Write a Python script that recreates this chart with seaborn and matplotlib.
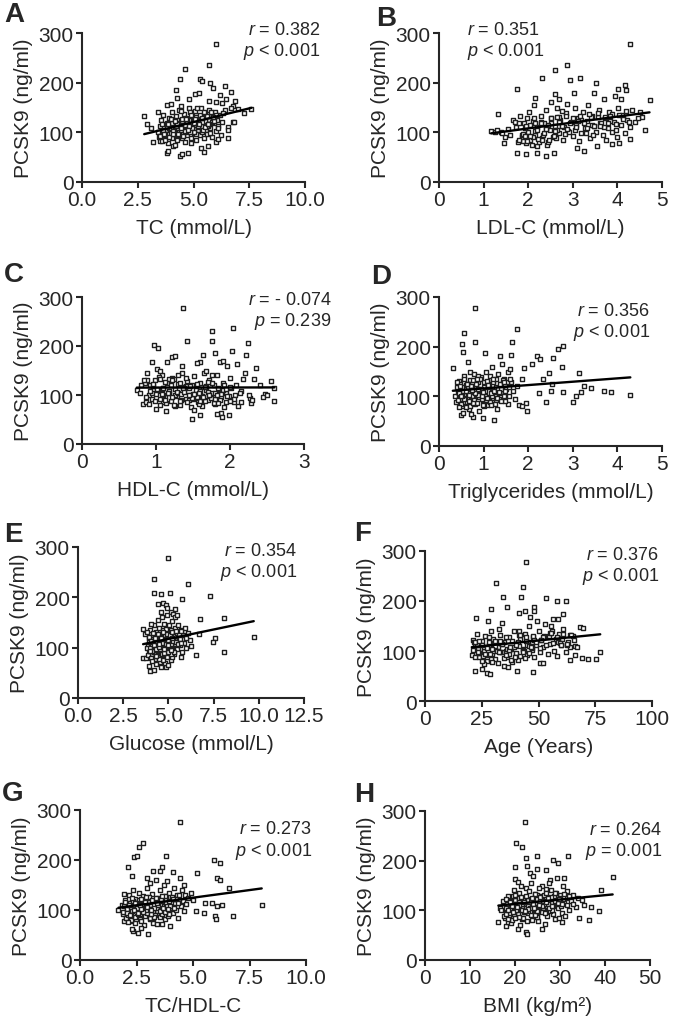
import matplotlib
matplotlib.use("Agg")
import matplotlib.pyplot as plt
import seaborn as sns

# ---- data (x value, PCSK9 ng/ml) ----
# A: total cholesterol
tc = [6.02, 5.69, 4.61, 4.41, 5.27, 5.38, 5.72, 5.87, 6.40, 4.23,
      6.69, 6.17, 5.05, 5.23, 4.26, 4.80, 5.68, 6.46, 6.86, 3.79,
      4.01, 4.46, 6.29, 6.02, 6.76, 6.98, 7.28, 6.66, 2.79, 3.19,
      3.08, 3.42, 2.90, 3.49, 3.79, 3.86, 4.09, 4.38, 4.50, 4.75,
      5.35, 5.45, 5.65, 6.02, 6.09, 6.54, 6.54, 6.76, 6.83, 6.54,
      3.40, 3.50, 3.55, 3.60, 3.65, 3.70, 3.75, 3.80, 3.85, 3.90,
      3.95, 4.00, 4.05, 4.10, 4.12, 4.18, 4.20, 4.25, 4.28, 4.32,
      4.35, 4.40, 4.42, 4.48, 4.50, 4.55, 4.58, 4.62, 4.65, 4.70,
      4.72, 4.78, 4.80, 4.85, 4.88, 4.92, 4.95, 5.00, 5.02, 5.08,
      5.10, 5.12, 5.18, 5.20, 5.25, 5.30, 5.32, 5.38, 5.42, 5.45,
      5.50, 5.55, 5.58, 5.62, 5.68, 5.70, 5.75, 5.80, 5.85, 5.90,
      5.95, 6.00, 6.05, 6.10, 6.20, 6.25, 6.30, 6.40, 3.45, 3.58,
      3.95, 4.15, 4.45, 4.68, 4.90, 5.15, 5.40, 5.65, 5.88, 4.30,
      3.52, 3.62, 3.72, 3.82, 3.92, 4.02, 4.12, 4.22, 4.32, 4.42,
      4.52, 4.62, 4.72, 4.82, 4.92, 5.02, 5.12, 5.22, 5.32, 5.42,
      5.52, 5.62, 5.72, 5.82, 5.92, 6.12, 6.32, 4.05, 4.85, 7.60,
      3.60, 3.70, 3.80, 3.90, 4.00, 4.10, 4.20, 4.30, 4.40, 4.50,
      4.60, 4.70, 4.80, 4.90, 5.00, 5.10, 5.20, 5.30, 5.40, 5.50,
      5.60, 5.70, 5.80, 5.90, 6.00, 3.66, 3.86, 4.06, 4.26, 4.46,
      4.66, 4.86, 5.06, 5.26, 5.46, 5.66, 5.86, 4.16, 4.76, 5.36]
pcsk9_tc = [277, 235, 227, 208, 208, 204, 200, 189, 193, 186,
            181, 175, 177, 179, 169, 167, 164, 167, 164, 155,
            157, 154, 160, 162, 154, 147, 138, 148, 133, 80,
            108, 140, 117, 83, 58, 63, 73, 53, 56, 59,
            69, 61, 73, 80, 86, 88, 110, 121, 121, 105,
            100, 112, 125, 95, 135, 88, 105, 118, 78, 128,
            98, 110, 140, 90, 122, 102, 132, 84, 115, 95,
            145, 108, 125, 88, 118, 100, 136, 80, 112, 128,
            95, 148, 105, 120, 88, 135, 110, 98, 125, 142,
            115, 85, 130, 105, 120, 95, 150, 112, 128, 88,
            138, 105, 118, 96, 145, 125, 108, 132, 90, 118,
            140, 102, 125, 112, 135, 95, 120, 145, 90, 82,
            120, 75, 142, 102, 78, 150, 100, 112, 130, 108,
            92, 104, 85, 97, 108, 88, 100, 112, 94, 105,
            92, 115, 100, 124, 108, 118, 96, 110, 132, 104,
            122, 112, 98, 120, 128, 108, 138, 118, 140, 146,
            116, 95, 110, 91, 126, 103, 118, 97, 114, 127,
            102, 122, 113, 134, 101, 130, 113, 134, 121, 110,
            133, 116, 141, 122, 134, 97, 116, 96, 117, 109,
            127, 101, 127, 116, 140, 116, 130, 123, 104, 128]

# B: LDL cholesterol
ldl = [4.29, 2.87, 2.61, 2.31, 2.94, 3.17, 3.53, 4.18, 1.75, 4.20,
       4.01, 3.47, 3.02, 3.95, 2.61, 2.16, 2.69, 3.69, 4.07, 4.72,
       1.33, 1.38, 1.17, 4.63, 4.29, 4.03, 3.88, 3.54, 3.10, 3.25,
       2.57, 2.41, 2.20, 1.94, 1.75, 2.19, 1.45, 1.49, 1.25, 1.30,
       1.42, 1.55, 1.60, 1.65, 1.72, 1.78, 1.82, 1.85, 1.90, 1.95,
       2.00, 2.02, 2.05, 2.10, 2.12, 2.15, 2.20, 2.25, 2.28, 2.32,
       2.35, 2.40, 2.42, 2.48, 2.50, 2.55, 2.60, 2.65, 2.68, 2.72,
       2.78, 2.80, 2.85, 2.90, 2.95, 3.00, 3.05, 3.08, 3.12, 3.18,
       3.22, 3.28, 3.32, 3.38, 3.42, 3.48, 3.52, 3.58, 3.62, 3.68,
       3.72, 3.78, 3.82, 3.88, 3.92, 3.98, 4.02, 4.08, 4.12, 4.18,
       4.22, 4.28, 4.32, 4.40, 4.50, 4.55, 1.88, 2.08, 2.30, 2.45,
       2.62, 1.70, 1.98, 2.52, 2.88, 3.35, 3.75, 3.15, 2.75, 3.45,
       1.80, 1.86, 1.92, 1.98, 2.04, 2.10, 2.16, 2.22, 2.28, 2.34,
       2.40, 2.46, 2.52, 2.58, 2.64, 2.70, 2.76, 2.82, 2.94, 3.06,
       3.18, 3.30, 3.44, 3.56, 3.70, 3.84, 3.96, 4.10, 4.26, 4.46,
       1.80, 1.88, 1.96, 2.04, 2.12, 2.20, 2.28, 2.36, 2.44, 2.52,
       2.60, 2.68, 2.76, 2.84, 2.92, 3.00, 3.08, 3.16, 3.24, 3.32,
       3.40, 3.48, 3.56, 3.64, 3.72, 3.80, 3.88, 3.96, 4.04, 4.12,
       4.20, 1.92, 2.16, 2.40, 2.64, 2.88, 3.12, 3.36, 3.60, 3.84]
pcsk9_ldl = [278, 235, 226, 209, 206, 209, 200, 195, 188, 185,
             188, 180, 179, 174, 177, 170, 167, 167, 167, 165,
             137, 101, 102, 104, 87, 79, 77, 73, 69, 63,
             59, 52, 59, 56, 58, 73, 79, 91, 100, 104,
             98, 106, 95, 125, 110, 80, 132, 90, 118, 78,
             100, 140, 85, 122, 155, 95, 110, 80, 132, 88,
             118, 145, 75, 105, 128, 90, 112, 150, 98, 125,
             85, 110, 138, 102, 120, 92, 150, 115, 128, 98,
             140, 108, 122, 88, 132, 112, 100, 145, 118, 95,
             128, 108, 140, 100, 120, 90, 150, 115, 130, 98,
             125, 110, 145, 120, 140, 130, 82, 75, 84, 80,
             88, 120, 128, 162, 158, 155, 85, 82, 142, 95,
             84, 95, 108, 82, 115, 90, 102, 86, 120, 94,
             108, 84, 118, 92, 104, 130, 112, 96, 118, 105,
             125, 98, 115, 130, 110, 122, 105, 135, 120, 128,
             119, 97, 112, 93, 128, 104, 119, 98, 115, 128,
             102, 121, 112, 133, 100, 128, 111, 132, 119, 108,
             130, 113, 138, 119, 130, 118, 137, 116, 135, 126,
             142, 92, 118, 106, 131, 107, 122, 136, 112, 133]

# C: HDL cholesterol
hdl = [1.36, 1.42, 0.97, 1.03, 2.04, 1.75, 1.75, 2.24, 2.03, 2.22,
       1.63, 1.80, 1.21, 1.26, 2.10, 1.96, 2.35, 1.87, 1.90, 1.60,
       1.55, 1.35, 1.15, 0.94, 1.01, 2.18, 2.32, 2.55, 2.59, 2.47,
       2.60, 2.27, 2.28, 2.07, 2.05, 2.11, 1.99, 1.88, 1.89, 1.82,
       1.60, 1.48, 1.14, 1.00, 1.09, 0.74, 0.83, 0.86, 0.88, 0.90,
       0.92, 0.95, 0.98, 1.02, 1.05, 1.08, 1.10, 1.12, 1.15, 1.18,
       1.20, 1.22, 1.25, 1.28, 1.30, 1.32, 1.35, 1.38, 1.40, 1.42,
       1.45, 1.47, 1.50, 1.52, 1.55, 1.57, 1.60, 1.62, 1.65, 1.67,
       1.70, 1.72, 1.75, 1.78, 1.80, 1.82, 1.85, 1.88, 1.90, 1.95,
       2.00, 2.02, 2.08, 2.15, 2.20, 0.85, 1.05, 1.25, 1.45, 1.62,
       1.18, 1.40, 1.52, 1.68, 1.92, 0.96, 1.30, 1.58, 1.75, 2.40,
       0.86, 0.90, 0.94, 0.98, 1.02, 1.06, 1.10, 1.14, 1.18, 1.22,
       1.26, 1.30, 1.34, 1.38, 1.42, 1.46, 1.50, 1.54, 1.58, 1.62,
       1.66, 1.70, 1.74, 1.78, 1.82, 1.86, 1.90, 1.94, 1.98, 2.06,
       2.14, 2.26, 1.12, 1.24, 1.36, 1.48, 1.60, 1.72, 1.84, 0.96,
       1.08, 1.32, 1.56, 1.80, 2.00,
       0.88, 0.92, 0.96, 1.00, 1.04, 1.08, 1.12, 1.16, 1.20, 1.24,
       1.28, 1.32, 1.36, 1.40, 1.44, 1.48, 1.52, 1.56, 1.60, 1.64,
       1.68, 1.72, 1.76, 1.80, 1.84, 1.88, 1.92, 1.96, 2.00, 1.10,
       1.22, 1.34, 1.46, 1.58, 1.70, 1.82, 1.94, 1.06, 1.38, 1.66,
       2.30, 2.45, 2.15, 2.50, 0.80, 0.84, 0.78]
pcsk9_hdl = [278, 211, 202, 196, 237, 230, 211, 207, 190, 182,
             181, 185, 177, 179, 164, 160, 155, 168, 170, 167,
             166, 160, 167, 167, 153, 133, 133, 128, 115, 102,
             87, 94, 83, 100, 85, 78, 60, 63, 55, 61,
             60, 52, 68, 72, 85, 111, 82, 85, 145, 100,
             120, 92, 130, 108, 80, 140, 115, 95, 125, 105,
             88, 135, 112, 98, 122, 80, 145, 108, 92, 128,
             115, 75, 102, 138, 118, 85, 125, 98, 145, 110,
             90, 130, 105, 120, 82, 140, 112, 95, 125, 105,
             135, 115, 120, 108, 145, 125, 150, 100, 90, 78,
             132, 118, 70, 150, 75, 110, 140, 112, 140, 120,
             95, 82, 105, 88, 112, 92, 100, 84, 108, 96,
             78, 104, 90, 115, 86, 100, 92, 110, 82, 98,
             88, 106, 94, 84, 102, 90, 110, 86, 98, 92,
             105, 100, 90, 80, 116, 94, 88, 100, 84, 118,
             102, 88, 96, 92, 88,
             130, 108, 122, 102, 136, 112, 126, 104, 120, 132,
             106, 124, 114, 134, 100, 120, 102, 122, 108, 96,
             118, 100, 124, 104, 114, 102, 120, 98, 116, 114,
             130, 102, 118, 104, 126, 100, 112, 132, 106, 116,
             90, 95, 85, 100, 120, 130, 105]

# D: triglycerides
tg = [0.80, 0.56, 0.52, 0.54, 0.80, 1.03, 1.76, 1.63, 1.61, 0.31,
      0.65, 0.69, 1.36, 2.19, 2.27, 2.56, 2.67, 2.79, 2.75, 2.08,
      1.90, 1.85, 2.47, 2.34, 2.53, 2.51, 2.79, 2.25, 2.40, 3.00,
      3.07, 3.19, 3.15, 3.25, 3.40, 3.69, 3.85, 4.29, 1.98, 1.96,
      1.80, 1.87, 1.54, 1.24, 0.99, 0.76, 0.50, 0.54, 0.35, 0.38,
      0.40, 0.42, 0.45, 0.48, 0.50, 0.52, 0.55, 0.58, 0.60, 0.62,
      0.65, 0.68, 0.70, 0.72, 0.75, 0.78, 0.80, 0.82, 0.85, 0.88,
      0.90, 0.92, 0.95, 0.98, 1.00, 1.02, 1.05, 1.08, 1.10, 1.12,
      1.15, 1.18, 1.20, 1.22, 1.25, 1.28, 1.30, 1.32, 1.35, 1.38,
      1.40, 1.45, 1.48, 1.50, 1.55, 1.58, 1.62, 1.65, 1.70, 1.75,
      0.60, 0.72, 0.88, 1.02, 1.18, 1.42, 1.60, 0.46, 0.95, 1.28,
      0.42, 0.46, 0.50, 0.54, 0.58, 0.62, 0.66, 0.70, 0.74, 0.78,
      0.82, 0.86, 0.90, 0.94, 0.98, 1.02, 1.06, 1.10, 1.14, 1.18,
      1.22, 1.26, 1.30, 1.34, 1.38, 1.42, 1.46, 0.44, 0.56, 0.64,
      0.76, 0.84, 0.96, 1.04, 1.16, 1.24, 0.52, 0.68, 0.88, 1.08,
      0.40, 0.44, 0.48, 0.52, 0.56, 0.60, 0.64, 0.68, 0.72, 0.76,
      0.80, 0.84, 0.88, 0.92, 0.96, 1.00, 1.04, 1.08, 1.12, 1.16,
      1.20, 1.24, 1.28, 1.32, 1.36, 1.40, 1.44, 1.48, 1.52, 1.56,
      1.60, 0.50, 0.62, 0.74, 0.86, 0.98, 1.10, 1.22, 1.34, 1.46]
pcsk9_tg = [278, 227, 206, 189, 209, 187, 236, 209, 183, 158,
            170, 150, 181, 181, 175, 177, 196, 201, 160, 165,
            158, 135, 147, 134, 125, 111, 109, 106, 88, 89,
            101, 109, 146, 121, 117, 111, 109, 103, 71, 86,
            82, 80, 84, 53, 57, 59, 62, 67, 100, 88,
            118, 108, 130, 95, 112, 80, 140, 102, 122, 88,
            115, 75, 132, 98, 110, 145, 85, 120, 100, 128,
            70, 112, 138, 92, 118, 105, 150, 82, 125, 98,
            140, 110, 88, 130, 102, 118, 75, 145, 95, 125,
            108, 135, 90, 115, 150, 100, 128, 110, 95, 120,
            78, 65, 140, 80, 160, 165, 155, 125, 105, 92,
            92, 104, 84, 110, 96, 88, 118, 80, 100, 92,
            108, 86, 98, 114, 82, 104, 92, 120, 88, 100,
            110, 84, 96, 106, 90, 115, 100, 78, 95, 106,
            86, 112, 94, 100, 82, 108, 118, 90, 102, 96,
            129, 107, 121, 101, 135, 111, 125, 103, 121, 133,
            107, 125, 115, 135, 101, 129, 111, 131, 119, 107,
            129, 111, 135, 115, 125, 115, 133, 111, 129, 119,
            135, 101, 125, 113, 135, 109, 123, 135, 109, 129]

# E: glucose
glucose = [4.98, 4.19, 6.09, 4.19, 4.61, 5.11, 7.29, 5.77, 4.43, 4.70,
           4.85, 5.39, 5.13, 5.26, 6.73, 8.06, 3.60, 3.69, 6.70, 7.57,
           7.47, 9.72, 8.06, 6.55, 6.27, 3.60, 3.78, 3.93, 4.00, 4.19,
           4.61, 4.89, 5.72, 3.85, 3.90, 3.95, 4.00, 4.05, 4.10, 4.15,
           4.20, 4.22, 4.25, 4.28, 4.30, 4.35, 4.38, 4.40, 4.42, 4.45,
           4.48, 4.50, 4.52, 4.55, 4.58, 4.60, 4.62, 4.65, 4.68, 4.70,
           4.72, 4.75, 4.78, 4.80, 4.82, 4.85, 4.88, 4.90, 4.92, 4.95,
           4.98, 5.00, 5.02, 5.05, 5.08, 5.10, 5.12, 5.15, 5.18, 5.20,
           5.25, 5.28, 5.30, 5.35, 5.40, 5.45, 5.50, 5.55, 5.60, 5.65,
           5.70, 5.75, 5.80, 5.85, 5.90, 6.00, 6.10, 6.20, 4.32, 4.60,
           4.95, 5.35, 4.05, 4.70, 5.00, 3.80, 4.52, 5.22, 5.48, 5.95,
           3.82, 3.88, 3.94, 4.00, 4.06, 4.12, 4.18, 4.24, 4.30, 4.36,
           4.42, 4.48, 4.54, 4.60, 4.66, 4.72, 4.78, 4.84, 4.90, 4.96,
           5.02, 5.08, 5.14, 5.20, 5.26, 5.32, 5.38, 4.08, 4.26, 4.44,
           4.62, 4.80, 4.98, 5.16, 4.14, 4.34, 4.56, 4.76, 4.94, 5.12,
           3.90, 3.96, 4.02, 4.08, 4.14, 4.20, 4.26, 4.32, 4.38, 4.44,
           4.50, 4.56, 4.62, 4.68, 4.74, 4.80, 4.86, 4.92, 4.98, 5.04,
           5.10, 5.16, 5.22, 5.28, 5.34, 5.40, 5.46, 5.52, 5.58, 5.64,
           5.70, 4.00, 4.24, 4.48, 4.72, 4.96, 5.20, 5.44, 5.68, 4.60]
pcsk9_glu = [278, 236, 227, 209, 206, 209, 202, 196, 187, 189,
             185, 177, 170, 167, 157, 159, 137, 127, 127, 119,
             112, 122, 92, 86, 104, 79, 79, 64, 54, 56,
             61, 61, 82, 105, 120, 95, 135, 110, 88, 125,
             100, 145, 78, 115, 132, 92, 108, 155, 120, 85,
             140, 102, 72, 128, 112, 95, 160, 118, 82, 135,
             105, 148, 90, 122, 70, 110, 138, 98, 165, 115,
             85, 128, 105, 145, 95, 120, 75, 135, 110, 152,
             100, 125, 88, 140, 112, 130, 98, 145, 118, 105,
             135, 92, 125, 110, 140, 100, 130, 115, 68, 170,
             178, 160, 148, 75, 65, 132, 90, 82, 165, 120,
             100, 86, 112, 94, 80, 104, 92, 116, 84, 98,
             108, 78, 102, 90, 118, 86, 96, 110, 82, 104,
             94, 114, 88, 100, 120, 92, 108, 74, 96, 112,
             88, 100, 92, 106, 118, 84, 98, 90, 108, 96,
             121, 99, 114, 94, 129, 105, 120, 98, 114, 127,
             101, 120, 110, 130, 97, 125, 108, 128, 115, 103,
             125, 108, 132, 113, 123, 111, 130, 108, 127, 117,
             133, 94, 119, 107, 131, 106, 120, 134, 109, 120]

# F: age
age = [44.4, 31.3, 43.1, 34.3, 42.2, 53.4, 58.1, 62.2, 29.1, 36.3,
       41.2, 44.1, 48.1, 48.1, 46.3, 22.5, 27.9, 34.0, 61.0, 58.8,
       56.3, 68.1, 69.6, 72.0, 75.4, 77.2, 69.1, 20.6, 22.1, 25.0,
       27.2, 28.7, 40.4, 47.4, 34.6, 36.5, 50.7, 52.2, 64.0, 21.0,
       22.0, 23.0, 24.0, 25.0, 26.0, 26.5, 27.5, 28.0, 29.0, 29.5,
       30.0, 31.0, 32.0, 33.0, 34.0, 35.0, 36.0, 37.0, 38.0, 39.0,
       40.0, 40.5, 41.0, 42.0, 43.0, 44.0, 45.0, 45.5, 46.0, 47.0,
       47.5, 48.0, 49.0, 50.0, 50.5, 51.0, 52.0, 53.0, 54.0, 54.5,
       55.0, 56.0, 57.0, 57.5, 58.0, 59.0, 60.0, 61.0, 62.0, 63.0,
       64.0, 65.0, 66.0, 67.0, 60.5, 55.5, 44.5, 38.5, 32.5, 26.0,
       49.5, 52.5, 46.5, 41.5, 35.5, 30.5, 23.5, 58.5, 62.5, 66.0,
       21.0, 22.0, 23.0, 24.0, 25.0, 26.0, 27.0, 28.0, 29.0, 30.0,
       31.0, 32.0, 33.0, 34.0, 35.0, 36.0, 37.0, 38.0, 39.0, 40.0,
       41.0, 42.0, 43.0, 44.0, 45.0, 46.0, 47.0, 48.0, 21.5, 23.5,
       25.5, 27.5, 29.5, 31.5, 33.5, 35.5, 37.5, 39.5, 41.5, 43.5,
       22.0, 23.5, 25.0, 26.5, 28.0, 29.5, 31.0, 32.5, 34.0, 35.5,
       37.0, 38.5, 40.0, 41.5, 43.0, 44.5, 46.0, 47.5, 49.0, 50.5,
       52.0, 53.5, 55.0, 56.5, 58.0, 59.5, 61.0, 62.5, 64.0, 65.5,
       24.0, 28.5, 33.0, 37.5, 42.0, 46.5, 51.0, 55.5, 60.0, 64.5]
pcsk9_age = [278, 236, 228, 209, 209, 206, 201, 201, 184, 189,
             177, 180, 188, 181, 169, 166, 161, 156, 174, 164,
             164, 149, 146, 85, 84, 98, 87, 92, 60, 65,
             57, 54, 60, 58, 70, 68, 77, 77, 82, 122,
             110, 135, 88, 120, 100, 130, 80, 112, 140, 95,
             125, 85, 108, 132, 98, 118, 88, 128, 105, 140,
             95, 115, 82, 125, 105, 135, 92, 118, 150, 102,
             128, 88, 112, 140, 98, 122, 108, 155, 95, 130,
             115, 140, 100, 125, 90, 135, 112, 145, 98, 118,
             108, 130, 110, 108, 125, 150, 120, 78, 145, 75,
             160, 130, 110, 140, 100, 115, 105, 118, 112, 92,
             102, 88, 112, 96, 80, 108, 92, 118, 84, 100,
             110, 76, 98, 114, 86, 104, 94, 82, 108, 96,
             118, 90, 102, 86, 112, 96, 106, 122, 118, 98,
             90, 106, 78, 100, 116, 92, 104, 88, 110, 100,
             119, 98, 113, 94, 128, 105, 120, 98, 115, 128,
             102, 121, 112, 132, 99, 128, 110, 131, 118, 106,
             129, 112, 136, 117, 128, 116, 135, 114, 133, 123,
             120, 94, 120, 109, 133, 108, 123, 136, 113, 133]

# G: TC/HDL-C ratio
ratio = [4.42, 2.80, 2.63, 2.40, 2.51, 3.81, 2.11, 3.61, 4.10, 2.29,
         4.42, 5.16, 5.94, 6.19, 6.05, 6.19, 6.61, 1.95, 1.70, 8.04,
         6.78, 5.97, 6.02, 5.49, 5.12, 6.30, 6.05, 5.53, 5.83, 1.95,
         2.33, 2.57, 3.00, 3.21, 3.61, 3.98, 3.76, 1.85, 1.90, 2.00,
         2.05, 2.10, 2.15, 2.20, 2.25, 2.30, 2.35, 2.40, 2.45, 2.50,
         2.55, 2.60, 2.65, 2.70, 2.75, 2.80, 2.85, 2.90, 2.95, 3.00,
         3.05, 3.10, 3.15, 3.20, 3.25, 3.30, 3.35, 3.40, 3.45, 3.50,
         3.55, 3.60, 3.65, 3.70, 3.75, 3.80, 3.85, 3.90, 3.95, 4.00,
         4.05, 4.10, 4.15, 4.20, 4.25, 4.30, 4.35, 4.40, 4.45, 4.50,
         4.55, 4.60, 4.65, 4.70, 4.80, 4.90, 5.00, 2.28, 2.72, 3.55,
         3.25, 2.98, 3.85, 4.60, 2.18, 2.62, 3.08, 3.42, 3.95, 2.45,
         1.90, 1.96, 2.02, 2.08, 2.14, 2.20, 2.26, 2.32, 2.38, 2.44,
         2.50, 2.56, 2.62, 2.68, 2.74, 2.80, 2.86, 2.92, 2.98, 3.04,
         3.10, 3.16, 3.22, 3.28, 3.34, 3.40, 3.46, 3.52, 3.58, 3.64,
         3.70, 3.76, 3.82, 3.88, 2.12, 2.36, 2.66, 2.94, 3.26, 3.56,
         2.00, 2.08, 2.16, 2.24, 2.32, 2.40, 2.48, 2.56, 2.64, 2.72,
         2.80, 2.88, 2.96, 3.04, 3.12, 3.20, 3.28, 3.36, 3.44, 3.52,
         3.60, 3.68, 3.76, 3.84, 3.92, 4.00, 4.08, 4.16, 4.24, 4.32,
         4.40, 2.20, 2.44, 2.68, 2.92, 3.16, 3.40, 3.64, 3.88, 4.12]
pcsk9_ratio = [277, 235, 227, 207, 209, 209, 187, 187, 177, 169,
               164, 175, 200, 194, 165, 161, 145, 132, 101, 110,
               89, 89, 83, 95, 99, 110, 109, 115, 115, 79,
               59, 55, 52, 75, 72, 69, 82, 110, 92, 120,
               85, 105, 130, 95, 115, 78, 140, 100, 122, 88,
               108, 135, 82, 118, 98, 128, 70, 112, 145, 92,
               120, 155, 102, 132, 85, 115, 160, 98, 125, 108,
               140, 90, 118, 150, 102, 128, 112, 88, 135, 105,
               122, 95, 145, 115, 100, 130, 85, 120, 108, 140,
               118, 98, 130, 112, 125, 135, 120, 62, 65, 178,
               178, 165, 158, 150, 112, 95, 82, 72, 92, 75,
               96, 108, 84, 102, 90, 115, 80, 98, 110, 86,
               104, 92, 120, 78, 100, 112, 88, 106, 94, 116,
               84, 102, 96, 110, 90, 104, 118, 86, 100, 92,
               108, 96, 114, 102, 76, 118, 92, 100, 86, 110,
               117, 95, 110, 90, 125, 101, 115, 94, 110, 123,
               97, 116, 106, 126, 93, 121, 104, 124, 111, 99,
               122, 104, 129, 109, 119, 108, 126, 105, 123, 114,
               130, 90, 115, 103, 126, 101, 115, 128, 103, 123]

# H: body mass index
bmi = [22.2, 20.2, 21.5, 22.4, 24.8, 31.7, 28.4, 29.6, 20.1, 22.7,
       24.8, 27.0, 23.3, 23.9, 27.8, 29.3, 30.9, 41.7, 39.1, 19.9,
       20.7, 30.7, 31.5, 16.3, 18.0, 18.5, 20.7, 22.4, 22.7, 26.1,
       26.7, 28.9, 30.4, 34.2, 36.5, 37.0, 38.7, 33.6, 35.3, 16.7,
       17.5, 18.0, 18.5, 19.0, 19.5, 20.0, 20.5, 21.0, 21.5, 22.0,
       22.5, 23.0, 23.5, 24.0, 24.5, 25.0, 25.5, 26.0, 26.5, 27.0,
       27.5, 28.0, 28.5, 29.0, 29.5, 30.0, 30.5, 31.0, 31.5, 32.0,
       32.5, 33.0, 34.0, 35.0, 19.2, 21.2, 23.8, 25.2, 27.2, 29.8,
       18.2, 19.8, 21.8, 23.2, 24.2, 25.8, 26.8, 28.2, 30.2, 31.2,
       20.3, 22.3, 24.6, 26.3, 28.6, 17.8, 21.4, 23.6, 25.4, 27.6,
       19.6, 22.8, 24.4, 26.2, 29.2, 18.8, 21.6, 25.0, 27.8, 32.8,
       17.0, 17.6, 18.2, 18.8, 19.4, 20.0, 20.6, 21.2, 21.8, 22.4,
       23.0, 23.6, 24.2, 24.8, 25.4, 26.0, 17.3, 17.9, 18.5, 19.1,
       19.7, 20.3, 20.9, 21.5, 22.1, 22.7, 23.3, 23.9, 24.5, 25.1,
       25.7, 26.6, 27.4, 28.2, 29.0, 18.0, 19.0, 20.0, 21.0, 22.0,
       18.0, 18.5, 19.0, 19.5, 20.0, 20.5, 21.0, 21.5, 22.0, 22.5,
       23.0, 23.5, 24.0, 24.5, 25.0, 25.5, 26.0, 26.5, 27.0, 27.5,
       28.0, 28.5, 29.0, 29.5, 30.0, 30.5, 31.0, 31.5, 32.0, 19.3,
       20.8, 22.3, 23.8, 25.3, 26.8, 28.3, 29.8, 21.3, 24.3, 27.3]
pcsk9_bmi = [277, 236, 228, 205, 210, 210, 202, 196, 188, 190,
             184, 181, 176, 169, 161, 165, 166, 167, 141, 163,
             157, 149, 139, 77, 69, 77, 62, 56, 52, 62,
             72, 82, 76, 84, 81, 106, 99, 106, 111, 104,
             115, 95, 128, 105, 88, 120, 100, 135, 82, 112,
             145, 95, 122, 108, 132, 88, 118, 150, 100, 125,
             110, 140, 92, 118, 105, 130, 95, 115, 125, 100,
             118, 112, 125, 120, 75, 70, 80, 78, 88, 85,
             110, 140, 125, 138, 92, 128, 142, 115, 108, 88,
             112, 98, 115, 105, 128, 85, 150, 155, 145, 155,
             128, 120, 102, 118, 135, 118, 108, 130, 98, 130,
             100, 88, 112, 94, 80, 106, 92, 116, 84, 98,
             108, 90, 102, 86, 114, 96, 118, 104, 82, 110,
             92, 100, 86, 112, 96, 78, 104, 120, 90, 100,
             108, 94, 112, 100, 118, 92, 102, 84, 110, 96,
             123, 101, 116, 96, 130, 107, 121, 100, 116, 128,
             103, 121, 112, 132, 99, 127, 109, 130, 116, 104,
             127, 109, 134, 114, 125, 113, 132, 110, 128, 108,
             125, 98, 124, 111, 134, 109, 123, 127, 104, 124]

y_ticks = [0, 100, 200, 300]

sns.set_style("ticks")
plt.rcParams["font.family"] = ["Liberation Sans", "DejaVu Sans"]
plt.rcParams["mathtext.fontset"] = "custom"
plt.rcParams["mathtext.rm"] = "Liberation Sans"
plt.rcParams["mathtext.it"] = "Liberation Sans:italic"

W, H = 674, 1020
fig = plt.figure(figsize=(W / 100, H / 100), dpi=100)

# letter, x, y, xlabel, xticks, decimals, r, p, axes box (px: left, right, top, bottom),
# text anchor (axes fraction), text alignment, letter position (px)
panels = [
    ("A", tc, pcsk9_tc, "TC (mmol/L)", [0, 2.5, 5, 7.5, 10], 1,
     "$r$ = 0.382", "$p$ < 0.001", (82, 305, 34, 183), (1.07, 1.08), "right", (4, 2)),
    ("B", ldl, pcsk9_ldl, "LDL-C (mmol/L)", [0, 1, 2, 3, 4, 5], 0,
     "$r$ = 0.351", "$p$ < 0.001", (439, 662, 34, 183), (0.125, 1.08), "left", (376, 6)),
    ("C", hdl, pcsk9_hdl, "HDL-C (mmol/L)", [0, 1, 2, 3], 0,
     "$r$ = - 0.074", "$p$ = 0.239", (82, 304, 298, 445), (1.125, 1.04), "right", (4, 262)),
    ("D", tg, pcsk9_tg, "Triglycerides (mmol/L)", [0, 1, 2, 3, 4, 5], 0,
     "$r$ = 0.356", "$p$ < 0.001", (439, 662, 298, 447), (0.945, 0.965), "right", (371, 264)),
    ("E", glucose, pcsk9_glu, "Glucose (mmol/L)", [0, 2.5, 5, 7.5, 10, 12.5], 1,
     "$r$ = 0.354", "$p$ < 0.001", (78, 304, 548, 699), (0.97, 1.035), "right", (4, 522)),
    ("F", age, pcsk9_age, "Age (Years)", [0, 25, 50, 75, 100], 0,
     "$r$ = 0.376", "$p$ < 0.001", (425, 652, 552, 702), (1.03, 1.035), "right", (354, 521)),
    ("G", ratio, pcsk9_ratio, "TC/HDL-C", [0, 2.5, 5, 7.5, 10], 1,
     "$r$ = 0.273", "$p$ < 0.001", (80, 306, 811, 961), (1.027, 0.93), "right", (2, 781)),
    ("H", bmi, pcsk9_bmi, "BMI (kg/m²)", [0, 10, 20, 30, 40, 50], 0,
     "$r$ = 0.264", "$p$ = 0.001", (425, 650, 812, 961), (1.053, 0.935), "right", (354, 782)),
]

for letter, xs, ys, xlabel, xt, dec, rtxt, ptxt, box, tpos, tha, lpos in panels:
    left, right, top, bottom = box
    ax = fig.add_axes([left / W, 1 - bottom / H, (right - left) / W, (bottom - top) / H])
    sns.regplot(x=xs, y=ys, ax=ax, ci=None, marker="s", color="black",
                scatter_kws=dict(s=11, facecolors="white", edgecolors="#1e1e1e",
                                 linewidths=1.0, alpha=1, zorder=2),
                line_kws=dict(color="black", lw=1.7, zorder=3))
    ax.set_xlim(xt[0], xt[-1])
    ax.set_ylim(0, 300)
    ax.set_xticks(xt)
    ax.set_xticklabels([f"{t:.{dec}f}" for t in xt])
    ax.set_yticks(y_ticks)
    ax.set_xlabel(xlabel, fontsize=15, labelpad=6)
    ax.set_ylabel("PCSK9 (ng/ml)", fontsize=15, labelpad=4)
    ax.tick_params(width=1.5, length=4, labelsize=15, pad=2)
    sns.despine(ax=ax)
    for s in ("left", "bottom"):
        ax.spines[s].set_linewidth(1.5)
    ax.text(tpos[0], tpos[1], rtxt + "\n" + ptxt, transform=ax.transAxes,
            ha=tha, va="top", fontsize=13, linespacing=1.15)
    fig.text(lpos[0] / W, 1 - lpos[1] / H, letter, fontsize=20,
             fontweight="bold", ha="left", va="top")

fig.savefig("out.png", dpi=100)
